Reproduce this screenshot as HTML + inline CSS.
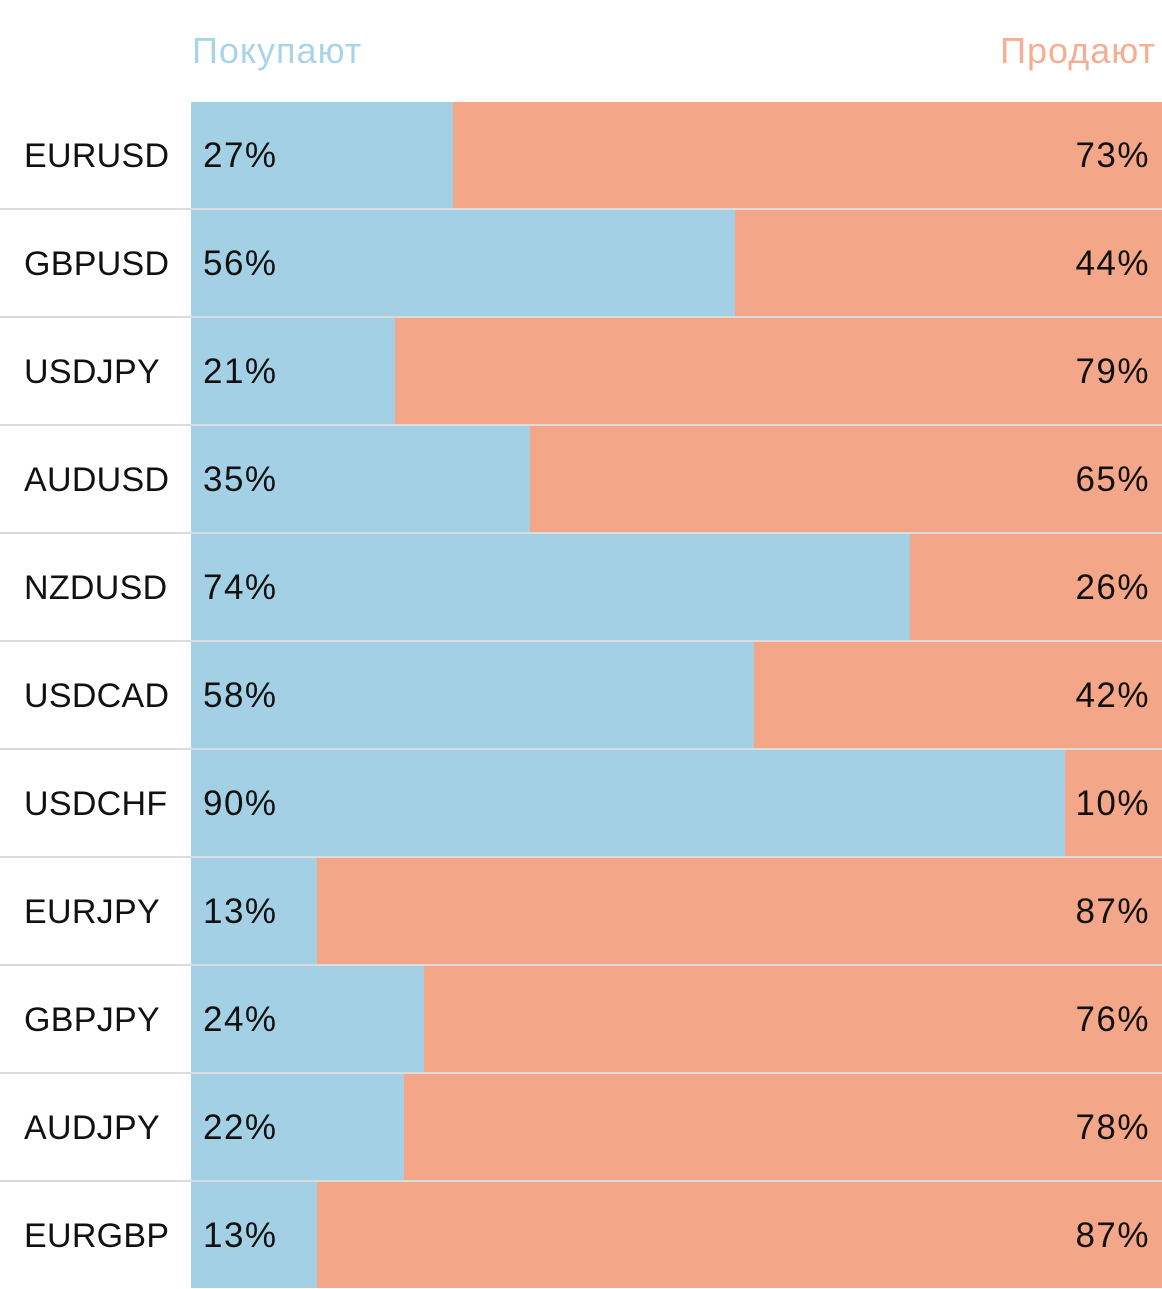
<!DOCTYPE html>
<html><head><meta charset="utf-8"><style>
body{margin:0;width:1162px;height:1280px;overflow:hidden;background:#fff;font-family:"Liberation Sans",sans-serif;position:relative}
.h{position:absolute;top:31px;font-size:36px;line-height:40px;letter-spacing:1px}
.row{position:absolute;left:0;width:1162px;height:106px}
.sep{position:absolute;left:0;width:1162px;height:2px;background:#dcdcdc}
.lab{position:absolute;left:24px;top:1px;line-height:106px;font-size:34px;color:#111;letter-spacing:0.3px}
.bar{position:absolute;left:191px;top:0;height:106px;width:971px;background:#f4a688}
.b{position:absolute;left:0;top:0;height:106px;background:#a3d0e4}
.pl{position:absolute;left:12px;top:1px;line-height:106px;font-size:35px;color:#111;letter-spacing:1.5px}
.pr{position:absolute;right:12px;top:1px;line-height:106px;font-size:35px;color:#111;letter-spacing:1.5px}
</style></head><body>
<div class="h" style="left:192px;color:#a8d4e8">Покупают</div>
<div class="h" style="right:6px;color:#f4ae94">Продают</div>

<div class="row" style="top:102px"><div class="lab">EURUSD</div><div class="bar"><div class="b" style="width:262px"></div><div class="pl">27%</div><div class="pr">73%</div></div></div>
<div class="sep" style="top:208px"></div>
<div class="row" style="top:210px"><div class="lab">GBPUSD</div><div class="bar"><div class="b" style="width:544px"></div><div class="pl">56%</div><div class="pr">44%</div></div></div>
<div class="sep" style="top:316px"></div>
<div class="row" style="top:318px"><div class="lab">USDJPY</div><div class="bar"><div class="b" style="width:204px"></div><div class="pl">21%</div><div class="pr">79%</div></div></div>
<div class="sep" style="top:424px"></div>
<div class="row" style="top:426px"><div class="lab">AUDUSD</div><div class="bar"><div class="b" style="width:339px"></div><div class="pl">35%</div><div class="pr">65%</div></div></div>
<div class="sep" style="top:532px"></div>
<div class="row" style="top:534px"><div class="lab">NZDUSD</div><div class="bar"><div class="b" style="width:719px"></div><div class="pl">74%</div><div class="pr">26%</div></div></div>
<div class="sep" style="top:640px"></div>
<div class="row" style="top:642px"><div class="lab">USDCAD</div><div class="bar"><div class="b" style="width:563px"></div><div class="pl">58%</div><div class="pr">42%</div></div></div>
<div class="sep" style="top:748px"></div>
<div class="row" style="top:750px"><div class="lab">USDCHF</div><div class="bar"><div class="b" style="width:874px"></div><div class="pl">90%</div><div class="pr">10%</div></div></div>
<div class="sep" style="top:856px"></div>
<div class="row" style="top:858px"><div class="lab">EURJPY</div><div class="bar"><div class="b" style="width:126px"></div><div class="pl">13%</div><div class="pr">87%</div></div></div>
<div class="sep" style="top:964px"></div>
<div class="row" style="top:966px"><div class="lab">GBPJPY</div><div class="bar"><div class="b" style="width:233px"></div><div class="pl">24%</div><div class="pr">76%</div></div></div>
<div class="sep" style="top:1072px"></div>
<div class="row" style="top:1074px"><div class="lab">AUDJPY</div><div class="bar"><div class="b" style="width:213px"></div><div class="pl">22%</div><div class="pr">78%</div></div></div>
<div class="sep" style="top:1180px"></div>
<div class="row" style="top:1182px"><div class="lab">EURGBP</div><div class="bar"><div class="b" style="width:126px"></div><div class="pl">13%</div><div class="pr">87%</div></div></div>
</body></html>
